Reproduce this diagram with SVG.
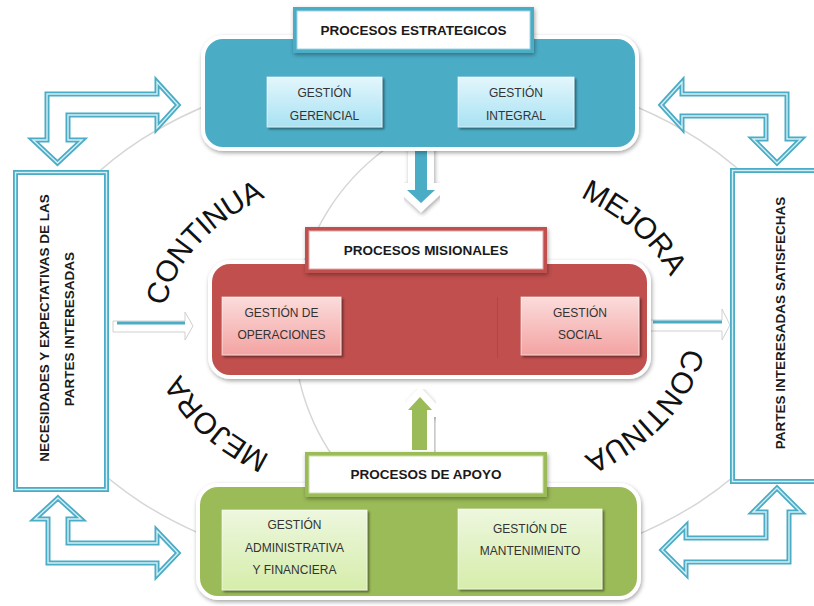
<svg xmlns="http://www.w3.org/2000/svg" width="814" height="606" viewBox="0 0 814 606">
<defs>
<filter id="sh" x="-10%" y="-15%" width="125%" height="140%"><feDropShadow dx="1" dy="2" stdDeviation="2" flood-color="#000" flood-opacity="0.35"/></filter>
<filter id="sh2" x="-10%" y="-10%" width="125%" height="130%"><feDropShadow dx="2" dy="2" stdDeviation="1.2" flood-color="#000" flood-opacity="0.45"/></filter>
<linearGradient id="gBlue" x1="0" y1="0" x2="0" y2="1"><stop offset="0" stop-color="#e3f6fc"/><stop offset="1" stop-color="#a8e2f3"/></linearGradient>
<linearGradient id="gRed" x1="0" y1="0" x2="0" y2="1"><stop offset="0" stop-color="#fbdcdb"/><stop offset="1" stop-color="#f3a3a2"/></linearGradient>
<linearGradient id="gGreen" x1="0" y1="0" x2="0" y2="1"><stop offset="0" stop-color="#edf7de"/><stop offset="1" stop-color="#d6edab"/></linearGradient>
<path id="arcTop" d="M 164,325 A 259,161 0 0 1 682,325"/>
<path id="arcBot" d="M 687,325 A 259,164 0 0 1 169,325"/>
</defs>
<style>
.panel{stroke:#fff;stroke-width:4;filter:url(#sh)}
.frame{filter:url(#sh)}
.ttl{font-family:"Liberation Sans",Arial,sans-serif;font-weight:bold;font-size:13.5px;fill:#1a1a1a;text-anchor:middle}
.item{font-family:"Liberation Sans",Arial,sans-serif;font-size:12px;fill:#333;text-anchor:middle}
.box{filter:url(#sh2);stroke:#ffffff;stroke-opacity:0.6;stroke-width:1}
.bent{fill:#fff;stroke:#4bacc6;stroke-width:5;stroke-linejoin:miter}
.bent-in{fill:none;stroke:#d3eef5;stroke-width:1.4;stroke-linejoin:miter}
.side{fill:#fff;stroke:#4bacc6;stroke-width:5}
.side-in{fill:none;stroke:#d3eef5;stroke-width:1.4}
.side-t{font-family:"Liberation Sans",Arial,sans-serif;font-weight:bold;font-size:13.5px;fill:#1a1a1a;text-anchor:middle}
.curve{font-family:"Liberation Sans",Arial,sans-serif;font-size:30px;fill:#111;letter-spacing:-0.5px;text-anchor:middle}
.arc{fill:none;stroke:#d6d6d6;stroke-width:1.5}
.flow{fill:#fff;stroke:#d0d0d0;stroke-width:1}
.flowline{stroke:#4bacc6;stroke-width:3}
.big{stroke:#fff;stroke-width:14;stroke-linejoin:miter;paint-order:stroke;filter:url(#sh)}
</style>

<g id="background">
<ellipse class="arc" cx="420" cy="321" rx="395" ry="256"/>
<path class="arc" d="M 384,150 A 224,224 0 0 0 334,458"/>
</g>

<g id="connectors">
<polygon class="bent" points="178,105 157,82 157,94 47,94 47,140 33,140 57.5,163 82,140 68,140 68,115 157,115 157,128"/>
<polygon class="bent-in" points="178,105 157,82 157,94 47,94 47,140 33,140 57.5,163 82,140 68,140 68,115 157,115 157,128"/>
<polygon class="bent" points="661,105 682,82 682,94 787,94 787,139 801,139 777,163 753,139 766,139 766,116 682,116 682,128"/>
<polygon class="bent-in" points="661,105 682,82 682,94 787,94 787,139 801,139 777,163 753,139 766,139 766,116 682,116 682,128"/>
<polygon class="bent" points="58,498 81,519 68,519 68,543 157,543 157,531 178,553 157,575 157,563 48,563 48,519 35,519"/>
<polygon class="bent-in" points="58,498 81,519 68,519 68,543 157,543 157,531 178,553 157,575 157,563 48,563 48,519 35,519"/>
<polygon class="bent" points="662,550 686,526 686,538 766,538 766,512 753,512 777,488 801,512 789,512 789,562 686,562 686,574"/>
<polygon class="bent-in" points="662,550 686,526 686,538 766,538 766,512 753,512 777,488 801,512 789,512 789,562 686,562 686,574"/>
<polygon class="flow" points="113,321 185,321 185,312 193,326 185,340 185,332 113,332"/>
<line class="flowline" x1="117" y1="323" x2="185" y2="323"/>
<polygon class="flow" points="650,320 722,320 722,309 730,325 722,340 722,331 650,331"/>
<line class="flowline" x1="653" y1="322" x2="722" y2="322"/>
<polygon class="big" fill="#4bacc6" points="415,150 427,150 427,190 435,190 421,203 407,190 415,190"/>
<polygon class="big" fill="#9bbb59" points="420,397 432,410 427,410 427,450 412,450 412,410 408,410"/>
</g>

<g id="lemas">
<text class="curve"><textPath href="#arcTop" startOffset="95">CONTINUA</textPath></text>
<text class="curve"><textPath href="#arcTop" startOffset="557">MEJORA</textPath></text>
<text class="curve"><textPath href="#arcBot" startOffset="99">CONTINUA</textPath></text>
<text class="curve"><textPath href="#arcBot" startOffset="560">MEJORA</textPath></text>
</g>

<g id="necesidades">
<rect class="side" x="15.5" y="172.5" width="91" height="317"/>
<rect class="side-in" x="15.5" y="172.5" width="91" height="317"/>
<text class="side-t" transform="translate(49,328) rotate(-90)">NECESIDADES Y EXPECTATIVAS DE LAS</text>
<text class="side-t" transform="translate(74,329) rotate(-90)">PARTES INTERESADAS</text>
</g>

<g id="satisfechas">
<rect class="side" x="732.5" y="170.5" width="100" height="311"/>
<rect class="side-in" x="732.5" y="170.5" width="100" height="311"/>
<text class="side-t" transform="translate(785,323) rotate(-90)">PARTES INTERESADAS SATISFECHAS</text>
</g>

<g id="estrategicos">
<rect class="panel" x="203" y="37" width="434" height="112" rx="20" fill="#4bacc6"/>
<rect class="frame" x="293" y="7" width="241" height="46" fill="#4bacc6"/>
<rect x="297" y="11" width="233" height="38" fill="#fff" stroke="#9dd6e4" stroke-width="1"/>
<text class="ttl" x="413.5" y="35">PROCESOS ESTRATEGICOS</text>
</g>
<g id="gerencial">
<rect class="box" x="267" y="77" width="115" height="50" fill="url(#gBlue)"/>
<text class="item" x="324.5" y="97">GESTIÓN</text>
<text class="item" x="324.5" y="120">GERENCIAL</text>
</g>
<g id="integral">
<rect class="box" x="458" y="77" width="116" height="50" fill="url(#gBlue)"/>
<text class="item" x="516" y="97">GESTIÓN</text>
<text class="item" x="516" y="120">INTEGRAL</text>
</g>

<g id="misionales">
<rect class="panel" x="210" y="262" width="439" height="115" rx="20" fill="#c0504d"/>
<line x1="497.5" y1="297" x2="497.5" y2="358" stroke="#b14744" stroke-width="1"/>
<rect class="frame" x="305" y="227" width="242" height="46" fill="#c0504d"/>
<rect x="309" y="231" width="234" height="38" fill="#fff" stroke="#e2a9a7" stroke-width="1"/>
<text class="ttl" x="426" y="255">PROCESOS MISIONALES</text>
</g>
<g id="operaciones">
<rect class="box" x="222" y="297" width="119" height="58" fill="url(#gRed)"/>
<text class="item" x="281.5" y="317">GESTIÓN DE</text>
<text class="item" x="281.5" y="339">OPERACIONES</text>
</g>
<g id="social">
<rect class="box" x="521" y="297" width="118" height="58" fill="url(#gRed)"/>
<text class="item" x="580" y="317">GESTIÓN</text>
<text class="item" x="580" y="339">SOCIAL</text>
</g>

<g id="apoyo">
<rect class="panel" x="198" y="485" width="441" height="113" rx="20" fill="#9bbb59"/>
<rect class="frame" x="305" y="452" width="242" height="45" fill="#9bbb59"/>
<rect x="309" y="456" width="234" height="37" fill="#fff" stroke="#cadfa3" stroke-width="1"/>
<text class="ttl" x="426" y="479">PROCESOS DE APOYO</text>
</g>
<g id="administrativa">
<rect class="box" x="222" y="510" width="145" height="80" fill="url(#gGreen)"/>
<text class="item" x="294.5" y="529">GESTIÓN</text>
<text class="item" x="294.5" y="552">ADMINISTRATIVA</text>
<text class="item" x="294.5" y="574">Y FINANCIERA</text>
</g>
<g id="mantenimiento">
<rect class="box" x="458" y="509" width="144" height="80" fill="url(#gGreen)"/>
<text class="item" x="530" y="533">GESTIÓN DE</text>
<text class="item" x="530" y="555">MANTENIMIENTO</text>
</g>
</svg>
